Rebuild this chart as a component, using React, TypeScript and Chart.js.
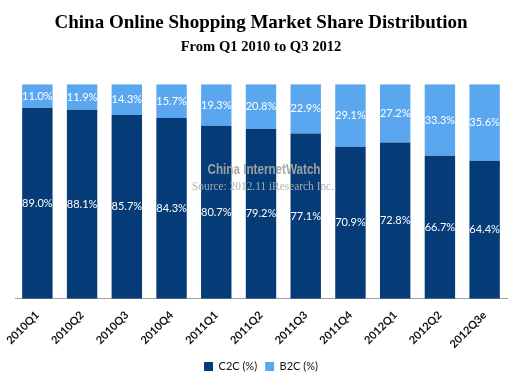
import React, { useEffect, useRef } from "react";
import { Chart, registerables } from "chart.js";

Chart.register(...registerables);

const categories = ["2010Q1", "2010Q2", "2010Q3", "2010Q4", "2011Q1", "2011Q2", "2011Q3", "2011Q4", "2012Q1", "2012Q2", "2012Q3e"];
const c2cValues = [89.0, 88.1, 85.7, 84.3, 80.7, 79.2, 77.1, 70.9, 72.8, 66.7, 64.4];
const b2cValues = [11.0, 11.9, 14.3, 15.7, 19.3, 20.8, 22.9, 29.1, 27.2, 33.3, 35.6];
const seriesNames = ["C2C (%)", "B2C (%)"];

const DARK = "#053c77";
const LIGHT = "#5ba7ef";
const LABEL_FONT = "Lato, 'DejaVu Sans', sans-serif";

const valueLabels = {
  id: "valueLabels",
  afterDatasetsDraw(chart: any) {
    const ctx = chart.ctx;
    ctx.save();
    ctx.fillStyle = "#ffffff";
    ctx.font = `11px ${LABEL_FONT}`;
    ctx.textAlign = "center";
    ctx.textBaseline = "middle";
    chart.data.datasets.forEach((ds: any, di: number) => {
      const meta = chart.getDatasetMeta(di);
      meta.data.forEach((bar: any, i: number) => {
        const p = bar.getProps(["x", "y", "base"], true);
        const cy = (p.y + p.base) / 2;
        ctx.fillText(ds.data[i].toFixed(1) + "%", p.x, cy);
      });
    });
    ctx.restore();
  },
};

function fitText(ctx: any, text: string, cx: number, cy: number, width: number) {
  const w = ctx.measureText(text).width;
  const s = width / w;
  ctx.save();
  ctx.translate(cx, cy);
  ctx.scale(s, 1);
  ctx.fillText(text, 0, 0);
  ctx.restore();
}

const watermark = {
  id: "watermark",
  afterDatasetsDraw(chart: any) {
    const ctx = chart.ctx;
    ctx.save();
    ctx.textAlign = "center";
    ctx.textBaseline = "middle";
    ctx.fillStyle = "rgba(165,165,165,0.95)";
    ctx.font = "bold 15px 'Liberation Sans', sans-serif";
    fitText(ctx, "China InternetWatch", 264, 170, 113);
    ctx.font = "12px 'Liberation Serif', serif";
    ctx.fillStyle = "rgba(175,175,175,0.95)";
    fitText(ctx, "Source: 2012.11 iResearch Inc.", 263, 187, 142);
    ctx.restore();
  },
};

export default function App() {
  const ref = useRef<HTMLCanvasElement>(null);
  useEffect(() => {
    document.body.style.margin = "0";
    const chart = new Chart(ref.current!, {
      type: "bar",
      data: {
        labels: categories,
        datasets: [
          { label: seriesNames[0], data: c2cValues, backgroundColor: DARK, barPercentage: 0.68, categoryPercentage: 1 },
          { label: seriesNames[1], data: b2cValues, backgroundColor: LIGHT, barPercentage: 0.68, categoryPercentage: 1 },
        ],
      },
      options: {
        animation: false,
        responsive: false,
        layout: { padding: { left: 15, right: 24, top: 0, bottom: 1 } },
        scales: {
          x: {
            stacked: true,
            grid: { display: false },
            border: { display: true, color: "#a0a0a0", width: 1 },
            ticks: {
              minRotation: 45,
              maxRotation: 45,
              color: "#111",
              font: { family: LABEL_FONT, size: 11, weight: "bold" },
              padding: 2,
            },
          },
          y: { stacked: true, display: false, min: 0, max: 100 },
        },
        plugins: {
          title: {
            display: true,
            text: "China Online Shopping Market Share Distribution",
            color: "#000",
            font: { family: "'Liberation Serif', serif", size: 19, weight: "bold" },
            padding: { top: 12, bottom: 3 },
          },
          subtitle: {
            display: true,
            text: "From Q1 2010 to Q3 2012",
            color: "#000",
            font: { family: "'Liberation Serif', serif", size: 14.6, weight: "bold" },
            padding: { top: 1, bottom: 28 },
          },
          legend: {
            position: "bottom",
            labels: {
              boxWidth: 9,
              boxHeight: 9,
              color: "#111",
              font: { family: LABEL_FONT, size: 11 },
              padding: 8,
            },
          },
          tooltip: { enabled: false },
        },
      },
      plugins: [valueLabels, watermark],
    });
    return () => chart.destroy();
  }, []);
  return <canvas ref={ref} width={531} height={383} style={{ display: "block" }} />;
}
